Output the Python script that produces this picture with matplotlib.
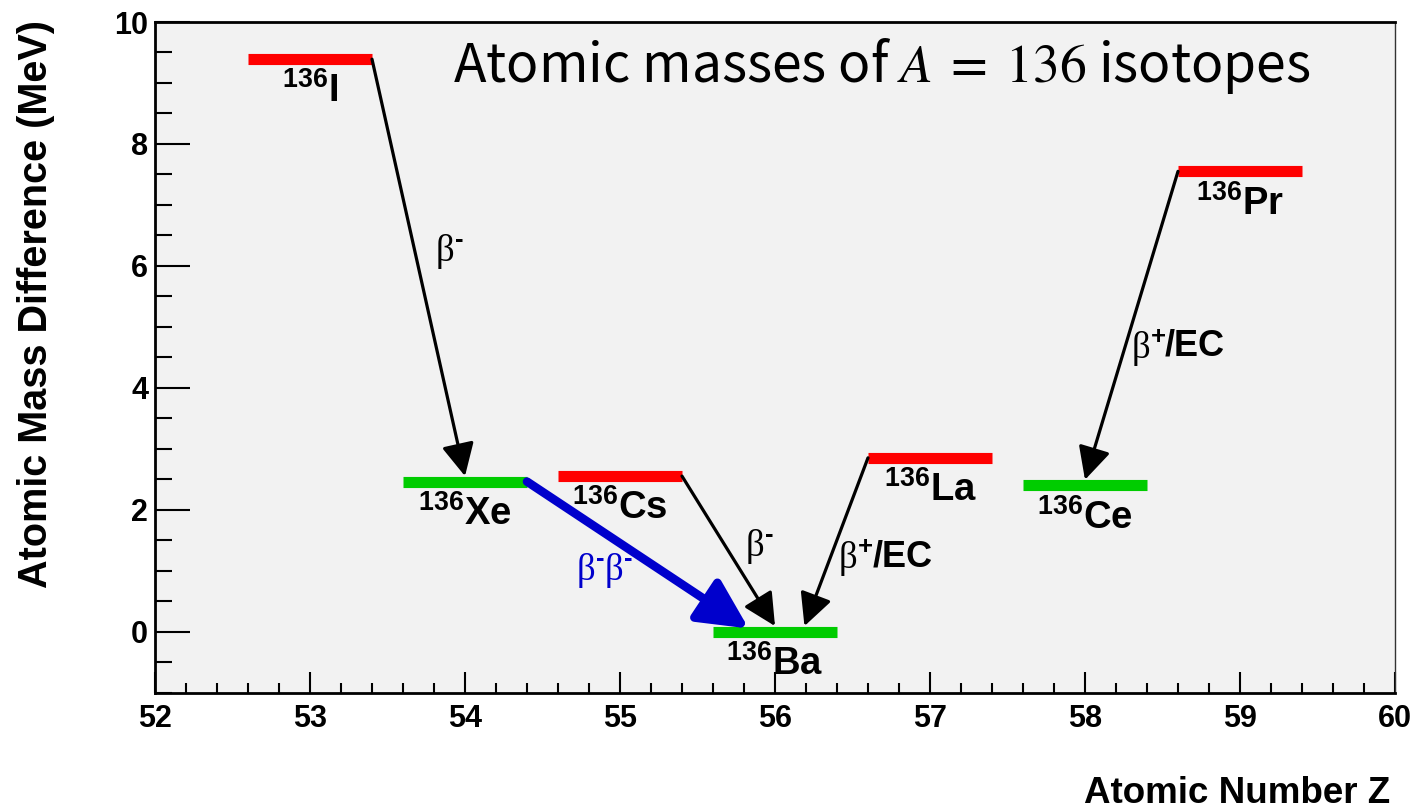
import matplotlib
matplotlib.use("Agg")
import matplotlib.pyplot as plt
from matplotlib.ticker import MultipleLocator

plt.rcParams['mathtext.fontset'] = 'custom'
plt.rcParams['mathtext.rm'] = 'Liberation Sans:bold'
plt.rcParams['mathtext.it'] = 'Liberation Sans:bold'
plt.rcParams['mathtext.bf'] = 'Liberation Sans:bold'

# A = 136 isobars: atomic number and mass difference relative to 136Ba (MeV)
names = ['I', 'Xe', 'Cs', 'Ba', 'La', 'Ce', 'Pr']
Z = [53, 54, 55, 56, 57, 58, 59]
mass_diff = [9.39, 2.46, 2.55, 0.0, 2.85, 2.40, 7.55]
stable = [False, True, False, True, False, True, False]

# decays: (from index, to index, sign, extra text)
decays = [(0, 1, '-', ''), (2, 3, '-', ''), (4, 3, '+', '/EC'), (6, 5, '+', '/EC')]
# left edge / baseline of the decay labels
decay_label_pos = [(53.81, 6.08), (55.81, 1.24), (56.41, 1.04), (58.30, 4.49)]
dbd_label_pos = (54.72, 0.84)

red = '#ff0000'
green = '#00cc00'
blue = '#0000cc'

fig = plt.figure(figsize=(14.12, 8.11), dpi=100)
ax = fig.add_axes([155/1412, 1-692.5/811, 1240/1412, 670.5/811])
ax.set_facecolor('#f2f2f2')


def beta_label(x, y, sign, rest='', color='k', repeat=1):
    t = ax.text(x, y, '\u03b2', family='Liberation Serif', fontsize=26.5,
                color=color, ha='left', va='baseline')
    s = ax.annotate(sign, xy=(1, 1), xycoords=t, xytext=(0.5, 4.5),
                    textcoords='offset points', ha='left', va='top', fontsize=18.5,
                    weight='bold', family='Liberation Sans', color=color)
    for _ in range(repeat - 1):
        t = ax.annotate('\u03b2', xy=(1, 0), xycoords=(s, t), ha='left', va='bottom',
                        family='Liberation Serif', fontsize=26.5, color=color)
        s = ax.annotate(sign, xy=(1, 1), xycoords=t, xytext=(0.5, 4.5),
                        textcoords='offset points', ha='left', va='top', fontsize=18.5,
                        weight='bold', family='Liberation Sans', color=color)
    if rest:
        ax.annotate(rest, xy=(1, 0), xycoords=(s, t), xytext=(-0.5, 1.5),
                    textcoords='offset points', ha='left', va='bottom', fontsize=26,
                    weight='bold', family='Liberation Sans', color=color)


half = 0.4
for i in range(len(Z)):
    col = green if stable[i] else red
    ax.hlines(mass_diff[i], Z[i]-half, Z[i]+half, colors=col, lw=8, zorder=3)
    ax.text(Z[i], mass_diff[i]-0.22, r'$^{136}\mathrm{%s}$' % names[i],
            ha='center', va='top', fontsize=27.5, zorder=4)

bar_top = 0.09
for k, (a, b, sign, rest) in enumerate(decays):
    # start at the end of the parent bar that faces the daughter
    if Z[b] > Z[a]:
        x0 = Z[a] + half
    else:
        x0 = Z[a] - half
    x1 = Z[b]
    if names[b] == 'Ba':
        x1 = Z[b] + (0.0 if Z[a] < Z[b] else 0.19)
    ax.annotate('', xy=(x1, mass_diff[b]+bar_top), xytext=(x0, mass_diff[a]),
                arrowprops=dict(arrowstyle='-|>,head_length=1.0,head_width=0.5',
                                mutation_scale=20, lw=2.3, color='k',
                                shrinkA=0, shrinkB=0), zorder=5)
    beta_label(decay_label_pos[k][0], decay_label_pos[k][1], sign, rest)

# double beta decay Xe -> Ba
ax.annotate('', xy=(55.83, mass_diff[3]+0.05), xytext=(Z[1]+half, mass_diff[1]),
            arrowprops=dict(arrowstyle='-|>,head_length=1.5,head_width=0.75',
                            mutation_scale=20, lw=6.2, color=blue,
                            shrinkA=0, shrinkB=0), zorder=5)
beta_label(dbd_label_pos[0], dbd_label_pos[1], '-', color=blue, repeat=2)

fig.text(453/1412, 1-82/811, r'Atomic masses of $A\;=\;136$ isotopes',
         fontsize=38.5, family='Noto Sans CJK JP', math_fontfamily='stix',
         ha='left', va='baseline')

ax.set_xlim(52, 60)
ax.set_ylim(-1, 10)
ax.xaxis.set_major_locator(MultipleLocator(1))
ax.xaxis.set_minor_locator(MultipleLocator(0.2))
ax.yaxis.set_major_locator(MultipleLocator(2))
ax.yaxis.set_minor_locator(MultipleLocator(0.5))
ax.tick_params(axis='x', which='major', direction='in', length=15, width=1.5, pad=8)
ax.tick_params(axis='x', which='minor', direction='in', length=7.5, width=1.5)
ax.tick_params(axis='y', which='major', direction='in', length=25, width=1.5, pad=5)
ax.tick_params(axis='y', which='minor', direction='in', length=12.5, width=1.5)
for lab in ax.get_xticklabels() + ax.get_yticklabels():
    lab.set_fontfamily('Liberation Sans')
    lab.set_fontweight('bold')
    lab.set_fontsize(22)
for side in ['left', 'bottom', 'top']:
    ax.spines[side].set_linewidth(2)
ax.spines['right'].set_linewidth(1)
ax.spines['right'].set_color('#333333')

fig.text(1390/1412, 1-803/811, 'Atomic Number Z', ha='right', va='baseline',
         fontsize=26.5, family='Liberation Sans', weight='bold')
fig.text(36/1412, 1-20/811, 'Atomic Mass Difference (MeV)', rotation=90,
         ha='center', va='top', fontsize=28.5, family='Liberation Sans', weight='bold')

fig.savefig('out.png', dpi=100)
